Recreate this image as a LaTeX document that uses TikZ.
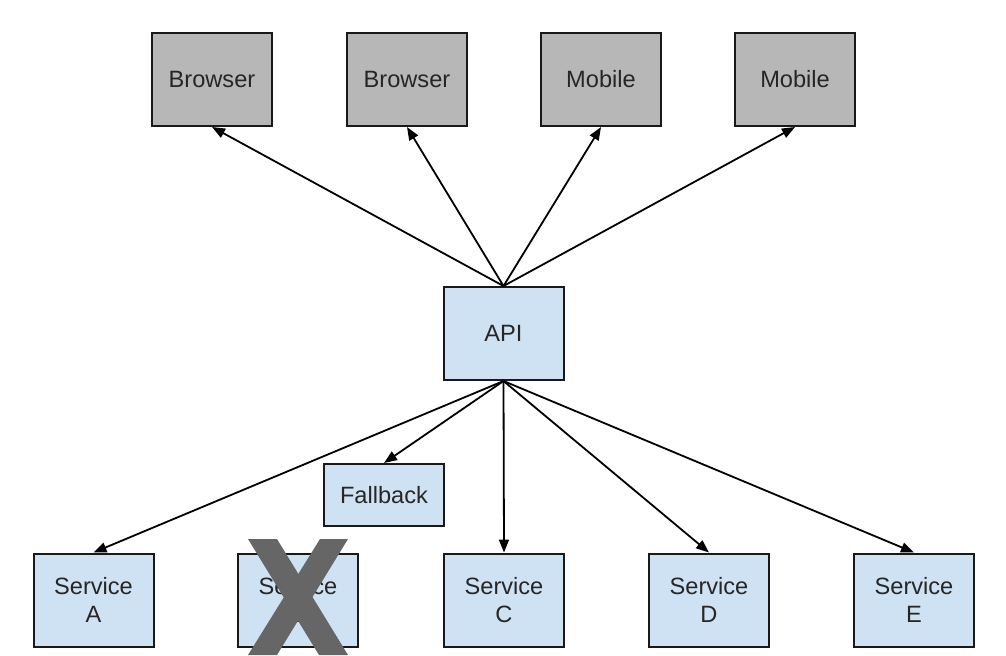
\documentclass[tikz,border=0pt]{standalone}
\usepackage{fontspec}
\setmainfont{Liberation Sans}
\usepackage{xcolor}
\usetikzlibrary{arrows.meta}
\definecolor{boxgray}{HTML}{B7B7B7}
\definecolor{boxblue}{HTML}{CFE2F3}
\definecolor{crossgray}{HTML}{666666}
\tikzset{
>={Triangle[length=6.5pt,width=5pt]},
box/.style={%
    rectangle,
    minimum width=60pt,
    minimum height=46.5pt,
    inner sep=1pt,
    draw=black!90,
    line width=1pt,
    text=black!85,
    align=center,
    % Font
    font=\fontsize{11.8pt}{14pt}\selectfont
},
client/.style={box, fill=boxgray},
service/.style={box, fill=boxblue},
}

\begin{document}
\begin{tikzpicture}[x=0.5pt, y=-0.5pt, ->, line width=0.9pt]
				\useasboundingbox (0,0) rectangle (1006,655);

				\node[client] at (212,79.5) (br1) {Browser};
				\node[client] at (407,79.5) (br2) {Browser};
				\node[client] at (601,79.5) (mob1) {Mobile};
				\node[client] at (795,79.5) (mob2) {Mobile};

				\node[service] at (503.5,333.5) (api) {API};
				\node[service, minimum height=31pt] at (384,495) (fb) {Fallback};

				\node[service] at (93.5,600) (sa) {Service\\A};
				\node[service] at (298,600) (sb) {Service\\B};
				\node[service] at (504,600) (sc) {Service\\C};
				\node[service] at (709,600) (sd) {Service\\D};
				\node[service] at (914,600) (se) {Service\\E};

			\path (api.north) edge (br1.south);
			\path (api.north) edge (br2.south);
			\path (api.north) edge (mob1.south);
			\path (api.north) edge (mob2.south);

			\path (api.south) edge (sa.north);
			\path (api.south) edge (fb.north);
			\path (api.south) edge (sc.north);
			\path (api.south) edge (sd.north);
			\path (api.south) edge (se.north);

			% failed service
			\fill[crossgray, draw=none] (248,539) -- (277,539) -- (348,655) -- (319,655) -- cycle;
			\fill[crossgray, draw=none] (320,539) -- (348,539) -- (277,655) -- (248,655) -- cycle;

			\end{tikzpicture}
\end{document}
